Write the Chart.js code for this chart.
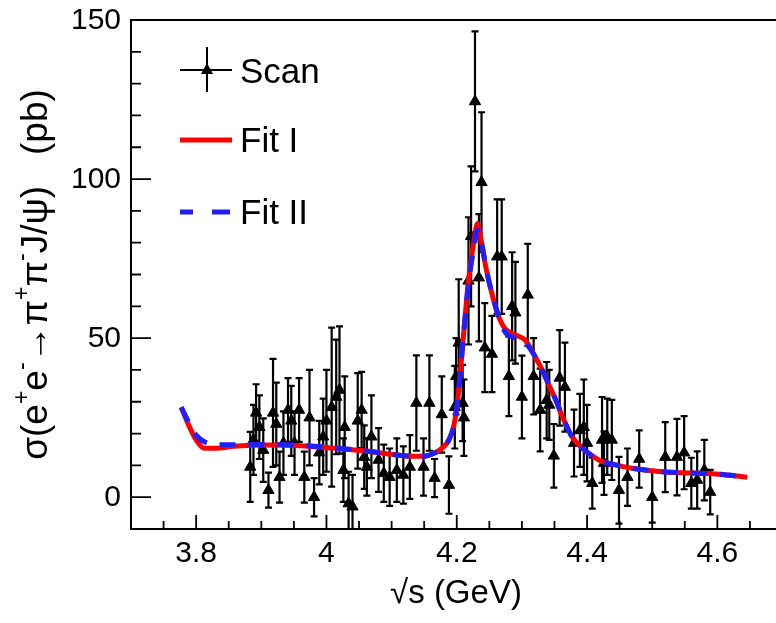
<!DOCTYPE html>
<html lang="en">
<head>
  <meta charset="UTF-8">
  <title>e+e- -> pi+pi- J/psi cross section scan</title>
  <script src="https://cdn.jsdelivr.net/npm/chart.js"></script>
  <style>
    body { margin: 0; background: #fff; }
    canvas { display: block; }
  </style>
</head>
<body>
<canvas id="scanChart" width="776" height="623"></canvas>
<script>
// fit curves (sqrt(s) in GeV, sigma in pb)
const fitX   = [3.777, 3.79, 3.80, 3.812, 3.83, 3.858, 3.91, 3.96, 4.012, 4.06, 4.10, 4.13, 4.15, 4.165, 4.178, 4.188, 4.195, 4.200, 4.205, 4.210, 4.218, 4.226, 4.232, 4.238, 4.245, 4.254, 4.264, 4.274, 4.29, 4.305, 4.318, 4.331, 4.341, 4.351, 4.364, 4.377, 4.395, 4.418, 4.44, 4.469, 4.50, 4.52, 4.56, 4.597, 4.646];
const fitI   = [28.3, 22, 18, 15.4, 15.4, 16, 16.4, 16.2, 15.4, 14.5, 13.5, 12.9, 12.9, 13.8, 15.5, 18, 22, 28, 38, 50, 68, 80, 86, 80, 72, 64, 57, 53, 51, 49.4, 45, 40, 35.5, 31, 24.5, 19, 15, 11.7, 10.3, 9.1, 8.3, 7.9, 7.6, 7.3, 6.3];
const fitII  = [28.3, 23, 19.5, 17.5, 16.5, 16.5, 16.6, 16.3, 15.5, 14.5, 13.5, 12.9, 12.9, 13.8, 15.5, 18, 22, 28, 38, 50, 67, 78, 84, 80, 72, 64, 57, 52, 50, 48.5, 45, 40, 35.5, 31, 24.5, 19, 15, 11.7, 10.3, 9.1, 8.3, 7.9, 7.6, 7.3, 6.3];

// scan data points
const scanX = [3.883, 3.888, 3.892, 3.897, 3.903, 3.911, 3.918, 3.923, 3.928, 3.934, 3.941, 3.946, 3.951, 3.958, 3.966, 3.974, 3.981, 3.989, 3.995, 4.000,
               4.008, 4.015, 4.020, 4.026, 4.028, 4.034, 4.040, 4.048, 4.054, 4.058, 4.062, 4.069, 4.080, 4.088, 4.097, 4.108, 4.118, 4.128, 4.138, 4.149,
               4.158, 4.166, 4.177, 4.188, 4.197, 4.199, 4.203, 4.209, 4.211, 4.218, 4.222, 4.228, 4.234, 4.238, 4.243, 4.254, 4.262, 4.269, 4.280, 4.285,
               4.290, 4.300, 4.309, 4.318, 4.328, 4.338, 4.342, 4.349, 4.358, 4.366, 4.380, 4.389, 4.395, 4.400, 4.408, 4.423, 4.426, 4.431, 4.438, 4.449,
               4.462, 4.480, 4.500, 4.520, 4.538, 4.549, 4.560, 4.569, 4.580, 4.589];
const scanY = [9.5, 18, 26.5, 22, 14.8, 2.2, 26.5, 23, 6.3, 17, 27.4, 24, 17, 27.4, 6.3, 25, 0, 14, 19, 24,
               28.3, 31.5, 33.7, 8.5, 22, -2, -3, 24, 27.4, 12.6, 9.5, 19, 11.7, 7.5, 6.3, 8.5, 7, 9.5, 29.6, 9.5,
               29.6, 6, 26, 3.8, 28.3, 38, 48.5, 29.6, 25, 68, 82, 124.4, 69, 99, 47, 45, 75.6, 75.6, 38, 60,
               58, 31.5, 63.6, 38, 27.4, 30.5, 29, 13, 37.5, 34.6, 17, 21, 22, 17, 4.4, 18, 10.7, 19, 18, 2.2,
               6.3, 12, 0, 12.6, 12.6, 14, 4.4, 5.4, 8.5, 1.6];
const scanErr = [11, 11, 9, 10, 10, 5.5, 17, 13, 8, 10, 10, 11, 10, 10, 8, 15, 6, 10, 12, 16,
                 25, 18, 20, 10, 16, 10, 10, 15, 12, 10, 9, 13, 10, 9, 9, 10, 9, 10, 15, 9,
                 15, 6, 12, 9, 13, 12, 20, 12, 12, 20, 22, 22, 20, 22, 14, 12, 18, 18, 12.5, 17,
                 16, 13, 16, 12, 13, 12, 11, 10, 15, 14, 10.5, 11.5, 15, 12, 8, 13.5, 10, 12, 12.6, 10.5,
                 9, 9, 8, 11, 12, 11.5, 8, 9, 9.5, 7];

const xTicks = [3.8, 4, 4.2, 4.4, 4.6];
const xTickLabels = ['3.8', '4', '4.2', '4.4', '4.6'];
const yTicks = [0, 50, 100, 150];

const FONT = '"Liberation Sans", Arial, sans-serif';

// draws text made of normal and superscript pieces, returns width
function richText(ctx, parts, x, y, size, measureOnly) {
  let w = 0;
  parts.forEach(p => {
    const sup = p[1];
    ctx.font = (sup ? Math.round(size * 0.62) : size) + 'px ' + FONT;
    if (!measureOnly) ctx.fillText(p[0], x + w, sup ? y - size * 0.38 : y);
    w += ctx.measureText(p[0]).width;
  });
  return w;
}

const errorBars = {
  id: 'errorBars',
  beforeDatasetsDraw(chart) {
    const { ctx, chartArea: a, scales: { x, y } } = chart;
    ctx.save();
    ctx.beginPath();
    ctx.rect(a.left, a.top, a.right - a.left, a.bottom - a.top);
    ctx.clip();
    ctx.strokeStyle = '#000';
    ctx.lineWidth = 2.2;
    scanX.forEach((sx, i) => {
      const px = x.getPixelForValue(sx);
      const top = y.getPixelForValue(scanY[i] + scanErr[i]);
      const bot = y.getPixelForValue(scanY[i] - scanErr[i]);
      ctx.beginPath();
      ctx.moveTo(px, top); ctx.lineTo(px, bot);
      ctx.moveTo(px - 3.5, top); ctx.lineTo(px + 3.5, top);
      ctx.moveTo(px - 3.5, bot); ctx.lineTo(px + 3.5, bot);
      ctx.stroke();
    });
    ctx.restore();
  }
};

const frame = {
  id: 'frame',
  afterDatasetsDraw(chart) {
    const { ctx, chartArea: a, scales: { x, y } } = chart;
    ctx.save();
    ctx.strokeStyle = '#000';
    ctx.lineWidth = 2;
    ctx.beginPath();
    ctx.moveTo(a.right + 5, a.top); ctx.lineTo(a.left, a.top);
    ctx.lineTo(a.left, a.bottom); ctx.lineTo(a.right + 5, a.bottom);
    ctx.stroke();

    // inward ticks
    ctx.lineWidth = 1.8;
    ctx.beginPath();
    for (let v = -10; v <= 150; v += 10) {
      const py = y.getPixelForValue(v);
      const len = v % 50 === 0 ? 20 : 10;
      ctx.moveTo(a.left, py); ctx.lineTo(a.left + len, py);
    }
    for (let i = 1; ; i++) {
      const v = 3.70 + i * 0.05;
      if (v > x.max) break;
      const k = Math.round(v * 10);
      const major = Math.abs(v * 10 - k) < 1e-6 && k % 2 === 0;
      const px = x.getPixelForValue(v);
      ctx.moveTo(px, a.bottom); ctx.lineTo(px, a.bottom - (major ? 14 : 8));
    }
    ctx.stroke();

    // tick labels
    ctx.fillStyle = '#000';
    ctx.font = '30px ' + FONT;
    ctx.textAlign = 'right';
    ctx.textBaseline = 'middle';
    yTicks.forEach(v => ctx.fillText(String(v), a.left - 10, y.getPixelForValue(v) + 1));
    ctx.textAlign = 'center';
    xTicks.forEach((v, i) => ctx.fillText(xTickLabels[i], x.getPixelForValue(v), 554));

    // axis titles
    ctx.font = '33px ' + FONT;
    ctx.fillText('\u221As (GeV)', 456, 594);

    ctx.save();
    ctx.translate(37, (a.top + a.bottom) / 2);
    ctx.rotate(-Math.PI / 2);
    ctx.textAlign = 'left';
    const parts = [['\u03C3(e'], ['+', 1], ['e'], ['-', 1], ['\u2192\u03C0'], ['+', 1], ['\u03C0'], ['-', 1], ['J/\u03C8)   (pb)']];
    const w = richText(ctx, parts, 0, 0, 37, true);
    richText(ctx, parts, -w / 2, 0, 37, false);
    ctx.restore();

    // legend
    ctx.lineWidth = 2;
    ctx.beginPath();
    ctx.moveTo(180, 70); ctx.lineTo(232, 70);
    ctx.moveTo(207, 47); ctx.lineTo(207, 92);
    ctx.stroke();
    ctx.beginPath();
    ctx.moveTo(207, 63); ctx.lineTo(213, 74); ctx.lineTo(201, 74); ctx.closePath();
    ctx.fill();
    ctx.lineWidth = 5;
    ctx.strokeStyle = '#ff0000';
    ctx.beginPath(); ctx.moveTo(180, 140); ctx.lineTo(232, 140); ctx.stroke();
    ctx.strokeStyle = '#1f1fff';
    ctx.beginPath();
    ctx.moveTo(180, 212); ctx.lineTo(193, 212);
    ctx.moveTo(212, 212); ctx.lineTo(230, 212);
    ctx.stroke();
    ctx.font = '35px ' + FONT;
    ctx.textAlign = 'left';
    ctx.fillText('Scan', 240, 73);
    ctx.fillText('Fit I', 240, 142);
    ctx.fillText('Fit II', 240, 214);
    ctx.restore();
  }
};

new Chart(document.getElementById('scanChart'), {
  type: 'scatter',
  data: {
    datasets: [
      {
        label: 'Fit II',
        data: fitX.map((v, i) => ({ x: v, y: fitII[i] })),
        showLine: true,
        borderColor: '#1f1fff',
        borderWidth: 5,
        borderDash: [16, 13],
        pointRadius: 0,
        cubicInterpolationMode: 'monotone',
        order: 1
      },
      {
        label: 'Fit I',
        data: fitX.map((v, i) => ({ x: v, y: fitI[i] })),
        showLine: true,
        borderColor: '#ff0000',
        borderWidth: 5,
        pointRadius: 0,
        cubicInterpolationMode: 'monotone',
        order: 2
      },
      {
        label: 'Scan',
        data: scanX.map((v, i) => ({ x: v, y: scanY[i] })),
        pointStyle: 'triangle',
        pointRadius: 6.5,
        backgroundColor: '#000',
        borderColor: '#000',
        borderWidth: 1,
        order: 3
      }
    ]
  },
  options: {
    responsive: false,
    animation: false,
    devicePixelRatio: 1,
    layout: { autoPadding: false, padding: { left: 131, top: 20, right: 0, bottom: 94 } },
    scales: {
      x: { type: 'linear', min: 3.70, max: 4.69, display: false },
      y: { min: -10, max: 150, display: false }
    },
    plugins: { legend: { display: false }, tooltip: { enabled: false } }
  },
  plugins: [errorBars, frame]
});
</script>
</body>
</html>
